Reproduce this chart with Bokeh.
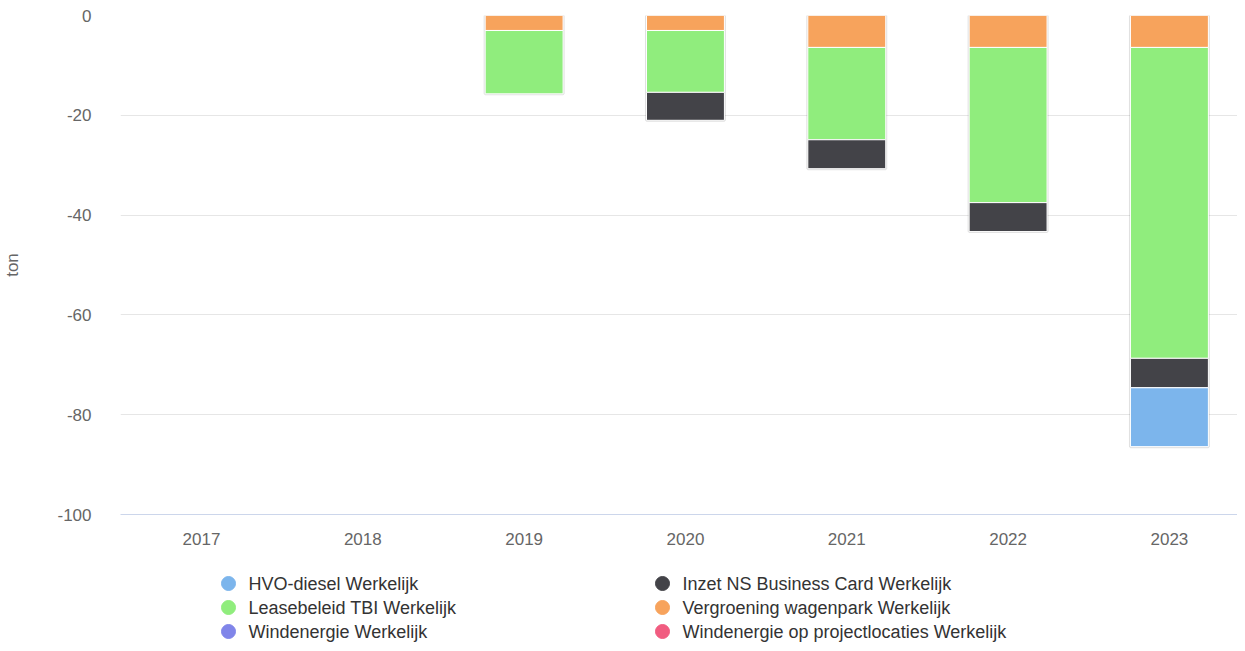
from bokeh.plotting import figure
from bokeh.models import ColumnDataSource, Range1d, FixedTicker
from bokeh.layouts import column
from bokeh.core.properties import value
from bokeh.embed import file_html
from bokeh.resources import INLINE

# ---- data ----
years = ["2017", "2018", "2019", "2020", "2021", "2022", "2023"]
hvo_diesel = [0, 0, 0, 0, 0, 0, -11.8]
inzet_ns = [0, 0, 0, -5.6, -5.8, -5.8, -5.9]
leasebeleid = [0, 0, -12.7, -12.4, -18.5, -31.1, -62.3]
vergroening = [0, 0, -3.0, -3.0, -6.4, -6.4, -6.4]
windenergie = [0, 0, 0, 0, 0, 0, 0]
wind_project = [0, 0, 0, 0, 0, 0, 0]

series_names = [
    "HVO-diesel Werkelijk",
    "Inzet NS Business Card Werkelijk",
    "Leasebeleid TBI Werkelijk",
    "Vergroening wagenpark Werkelijk",
    "Windenergie Werkelijk",
    "Windenergie op projectlocaties Werkelijk",
]
series_colors = ["#7cb5ec", "#434348", "#90ed7d", "#f7a35c", "#8085e9", "#f15c80"]
y_ticks = [-100, -80, -60, -40, -20, 0]
y_tick_labels = ["-100", "-80", "-60", "-40", "-20", "0"]

FONT = "Liberation Sans"
W = 1237
FRAME_LEFT = 120

xs = list(range(len(years)))
cols = {
    "hvo": hvo_diesel,
    "inzet": inzet_ns,
    "lease": leasebeleid,
    "verg": vergroening,
    "wind": windenergie,
    "wproj": wind_project,
}
data = {"x": xs}
data.update(cols)
for k, v in cols.items():
    data["a_" + k] = [1.0 if val != 0 else 0.0 for val in v]
totals = [sum(c[i] for c in cols.values()) for i in range(len(years))]
data["total"] = totals
data["zero"] = [0] * len(years)
data["a_total"] = [0.12 if t != 0 else 0.0 for t in totals]
source = ColumnDataSource(data)

p = figure(
    width=W, height=556,
    x_range=Range1d(-0.502, 6.422),
    y_range=Range1d(-100, 0),
    output_backend="svg", toolbar_location=None,
    min_border_left=FRAME_LEFT, min_border_right=0,
    min_border_top=15, min_border_bottom=42,
)
p.outline_line_color = None
p.background_fill_color = "white"

bar_w = 0.483

# subtle shadow behind each stack
p.vbar(x="x", top="zero", bottom="total", width=bar_w, source=source,
       fill_alpha=0, line_color="#000000", line_alpha="a_total", line_width=3)

# stacking order from zero outwards
stack_keys = ["wproj", "wind", "verg", "lease", "inzet", "hvo"]
key_color = dict(zip(["hvo", "inzet", "lease", "verg", "wind", "wproj"], series_colors))
p.vbar_stack(
    stack_keys, x="x", width=bar_w, source=source,
    fill_color=[key_color[k] for k in stack_keys],
    line_color="white", line_width=1,
    line_alpha=["a_" + k for k in stack_keys],
)

# axes
yax = p.yaxis[0]
yax.ticker = FixedTicker(ticks=y_ticks)
yax.major_label_overrides = {t: l for t, l in zip(y_ticks, y_tick_labels)}
yax.axis_line_color = None
yax.major_tick_line_color = None
yax.minor_tick_line_color = None
yax.major_label_standoff = 23
yax.major_label_text_font = FONT
yax.major_label_text_font_size = "17px"
yax.major_label_text_color = "#666666"
yax.axis_label = "ton"
yax.axis_label_text_font = FONT
yax.axis_label_text_font_size = "17px"
yax.axis_label_text_font_style = "normal"
yax.axis_label_text_color = "#666666"
yax.axis_label_standoff = 32

xax = p.xaxis[0]
xax.ticker = FixedTicker(ticks=xs)
xax.major_label_overrides = {i: y for i, y in zip(xs, years)}
xax.axis_line_color = "#ccd6eb"
xax.axis_line_width = 1
xax.major_tick_line_color = None
xax.minor_tick_line_color = None
xax.major_label_standoff = 12
xax.major_label_text_font = FONT
xax.major_label_text_font_size = "17px"
xax.major_label_text_color = "#666666"

p.xgrid.grid_line_color = None
p.ygrid.ticker = FixedTicker(ticks=y_ticks)
p.ygrid.grid_line_color = "#e6e6e6"

# ---- legend as its own small figure (frame aligned with the chart frame) ----
LH = 87
lg = figure(
    width=W, height=LH,
    x_range=Range1d(FRAME_LEFT, W), y_range=Range1d(LH, 0),
    x_axis_type=None, y_axis_type=None,
    output_backend="svg", toolbar_location=None,
    min_border=0, min_border_left=FRAME_LEFT, min_border_right=0,
    min_border_top=0, min_border_bottom=0,
)
lg.outline_line_color = None
lg.xgrid.grid_line_color = None
lg.ygrid.grid_line_color = None

col_x = [228, 662]
row_y0, row_dy = 27, 24
leg = ColumnDataSource({
    "mx": [col_x[i % 2] for i in range(len(series_names))],
    "tx": [col_x[i % 2] + 20 for i in range(len(series_names))],
    "y": [row_y0 + row_dy * (i // 2) for i in range(len(series_names))],
    "name": series_names,
    "color": series_colors,
})
lg.scatter(x="mx", y="y", source=leg, marker="circle", size=14,
           fill_color="color", line_color="color")
lg.text(x="tx", y="y", text="name", source=leg,
        text_font=value(FONT), text_font_size="18px", text_color="#333333",
        text_baseline="middle", text_align="left")

layout = column(p, lg, spacing=0)
open("out.html", "w").write(file_html(layout, INLINE))
